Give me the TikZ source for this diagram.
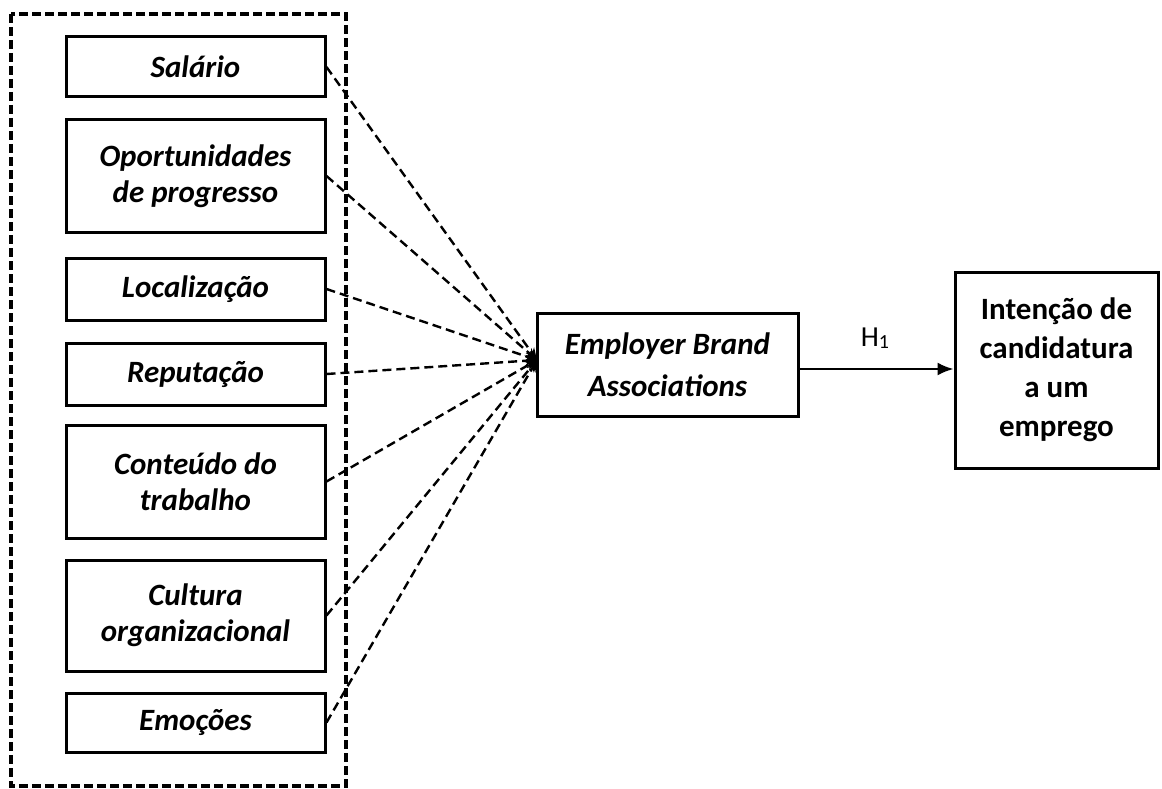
\documentclass[tikz,border=0pt]{standalone}
\usepackage{fontspec}
\setmainfont{Carlito}
\usetikzlibrary{arrows.meta}
\begin{document}
\begin{tikzpicture}[x=1pt,y=-1pt,
  box/.style={draw, line width=3pt, inner sep=0pt, align=center, minimum width=259pt},
  bi/.style={font=\fontsize{31}{36}\selectfont\bfseries\itshape},
  dline/.style={line width=2.4pt, dash pattern=on 9pt off 5pt, -{Stealth[length=12pt,width=10pt]}},
  outer/.style={line width=3.5pt, dash pattern=on 9pt off 4pt}]
\useasboundingbox (0,0) rectangle (1162,789);
\draw[outer] (11,14) rectangle (346,786);
\node[box,bi,minimum height=60pt] (sal) at (195.5,67) {Salário};
\node[box,bi,minimum height=112pt] (opo) at (195.5,176) {Oportunidades\\de progresso};
\node[box,bi,minimum height=62pt] (loc) at (195.5,289) {Localização};
\node[box,bi,minimum height=62pt] (rep) at (195.5,374) {Reputação};
\node[box,bi,minimum height=113pt] (con) at (195.5,481.5) {Conteúdo do\\trabalho};
\node[box,bi,minimum height=111pt] (cul) at (195.5,615.5) {Cultura\\organizacional};
\node[box,bi,minimum height=59pt] (emo) at (195.5,722.5) {Emoções};
\node[box,font=\fontsize{31}{42}\selectfont\bfseries\itshape,minimum width=261pt,minimum height=103pt] (eba) at (667.5,364.5) {Employer Brand\\Associations};
\node[box,font=\fontsize{31}{39}\selectfont\bfseries,minimum width=203pt,minimum height=196pt] (int) at (1056.5,370) {Intenção de\\candidatura\\a um\\emprego};
\coordinate (conv) at (537,360);
\foreach \n in {sal,opo,loc,rep,con,cul,emo}
  \draw[dline] (\n.east) -- (conv);
\draw[line width=2.2pt, -{Latex[length=16pt,width=13pt]}] ([yshift=-4.5pt]eba.east) -- ([yshift=-4.5pt]eba.east -| int.west);
\node[font=\fontsize{29}{32}\selectfont, inner sep=0pt] (h1) at (875,338) {H\raisebox{-2pt}{\fontsize{20}{20}\selectfont 1}};
\end{tikzpicture}
\end{document}
